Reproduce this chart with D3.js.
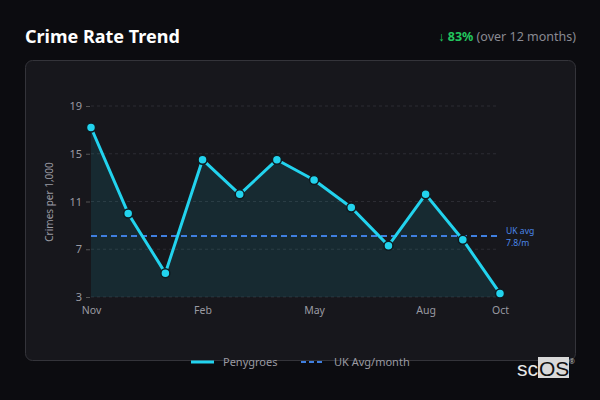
<!DOCTYPE html>
<html><head><meta charset="utf-8">
<script src="https://cdn.jsdelivr.net/npm/d3@7"></script>
<style>
html,body{margin:0;padding:0;background:#0c0c10;}
svg{display:block;font-family:"Noto Sans","Open Sans",sans-serif;}
</style></head>
<body><svg id="c" width="600" height="400"></svg>
<script>
const months = ["Nov","Dec","Jan","Feb","Mar","Apr","May","Jun","Jul","Aug","Sep","Oct"];
const values = [17.2,10.0,5.0,14.5,11.6,14.5,12.8,10.5,7.3,11.6,7.8,3.3];
const yTicks = [3,7,11,15,19];
const xTickLabels = ["Nov","Feb","May","Aug","Oct"];
const ukAvg = 8.1;
const ukAvgLabel = ["UK avg","7.8/m"];
const changeText = "83%";

const svg = d3.select("#c");
svg.append("rect").attr("width",600).attr("height",400).attr("fill","#0c0c10");

// title
svg.append("text").attr("x",25).attr("y",43).attr("fill","#ffffff")
  .attr("font-size",18).attr("font-weight",700).text("Crime Rate Trend");
const sub = svg.append("text").attr("x",576).attr("y",41).attr("text-anchor","end").attr("font-size",12.5);
sub.append("tspan").attr("fill","#22c55e").attr("font-weight",400).text("↓ ");
sub.append("tspan").attr("fill","#22c55e").attr("font-weight",700).text(changeText);
sub.append("tspan").attr("fill","#8a8a92").text(" (over 12 months)");

// panel
svg.append("rect").attr("x",25.5).attr("y",60.5).attr("width",550).attr("height",300).attr("rx",7)
  .attr("fill","#17171c").attr("stroke","#34343a");

const x = d3.scalePoint().domain(months).range([91,500]);
const y = d3.scaleLinear().domain([3,19]).range([297,106]);

// grid
svg.append("g").selectAll("line").data(yTicks).join("line")
  .attr("x1",91).attr("x2",497).attr("y1",d=>y(d)).attr("y2",d=>y(d))
  .attr("stroke","#2c2c33").attr("stroke-dasharray","3,3").attr("stroke-width",1);

// y axis
const ya = svg.append("g").attr("transform","translate(91,0)")
  .call(d3.axisLeft(y).tickValues(yTicks).tickSize(4).tickPadding(5).tickFormat(d3.format("d")));
ya.select(".domain").remove();
ya.selectAll("line").attr("stroke","#555").attr("transform","translate(-1,0)");
ya.selectAll("text").attr("fill","#9a9aa2").attr("font-size",11).attr("font-family","Noto Sans, sans-serif");

// x axis
const xa = svg.append("g").attr("transform","translate(0,297)")
  .call(d3.axisBottom(x).tickValues(xTickLabels).tickSize(0).tickPadding(10));
xa.select(".domain").remove();
xa.selectAll("text").attr("fill","#9a9aa2").attr("font-size",10.5).attr("font-family","Noto Sans, sans-serif");

// y label
svg.append("text").attr("transform","translate(53,202) rotate(-90)").attr("text-anchor","middle")
  .attr("fill","#9a9aa2").attr("font-size",10).text("Crimes per 1,000");

// area
const area = d3.area().x((d,i)=>x(months[i])).y0(y(3)).y1(d=>y(d));
svg.append("path").datum(values).attr("d",area).attr("fill","#22d3ee").attr("fill-opacity",0.1);

// UK avg line
svg.append("line").attr("x1",91).attr("x2",497).attr("y1",y(ukAvg)).attr("y2",y(ukAvg))
  .attr("stroke","#3f7fe0").attr("stroke-width",2).attr("stroke-dasharray","6,4");
svg.append("text").attr("x",506).attr("y",y(ukAvg)-2.5).attr("fill","#4a86e8").attr("font-size",8.6)
  .text(ukAvgLabel[0]);
svg.append("text").attr("x",506).attr("y",y(ukAvg)+9.5).attr("fill","#4a86e8").attr("font-size",8.6)
  .text(ukAvgLabel[1]);

// line
const line = d3.line().x((d,i)=>x(months[i])).y(d=>y(d));
svg.append("path").datum(values).attr("d",line).attr("fill","none")
  .attr("stroke","#22d3ee").attr("stroke-width",3).attr("stroke-linejoin","round");
svg.selectAll("circle.pt").data(values).join("circle").attr("class","pt")
  .attr("cx",(d,i)=>x(months[i])).attr("cy",d=>y(d)).attr("r",4.5)
  .attr("fill","#22d3ee").attr("stroke","#0f1a1f").attr("stroke-width",1.5);

// legend
svg.append("line").attr("x1",191).attr("x2",214).attr("y1",362).attr("y2",362)
  .attr("stroke","#22d3ee").attr("stroke-width",3);
svg.append("text").attr("x",223).attr("y",366).attr("fill","#9a9aa2").attr("font-size",11).text("Penygroes");
svg.append("line").attr("x1",301).attr("x2",325).attr("y1",362).attr("y2",362)
  .attr("stroke","#3f7fe0").attr("stroke-width",2).attr("stroke-dasharray","5,3");
svg.append("text").attr("x",334).attr("y",366).attr("fill","#9a9aa2").attr("font-size",11).text("UK Avg/month");

// logo
svg.append("rect").attr("x",538).attr("y",357).attr("width",31).attr("height",21).attr("fill","#d9d9d9");
svg.append("text").attr("x",517).attr("y",376).attr("fill","#e8e8e8").attr("font-size",21)
  .attr("font-family","Liberation Sans, Arial, sans-serif").text("sc");
svg.append("text").attr("x",539).attr("y",376).attr("fill","#111").attr("font-size",21)
  .attr("font-family","Liberation Sans, Arial, sans-serif").text("OS");
svg.append("text").attr("x",569).attr("y",364).attr("fill","#bbb").attr("font-size",7).text("®");
</script></body></html>
